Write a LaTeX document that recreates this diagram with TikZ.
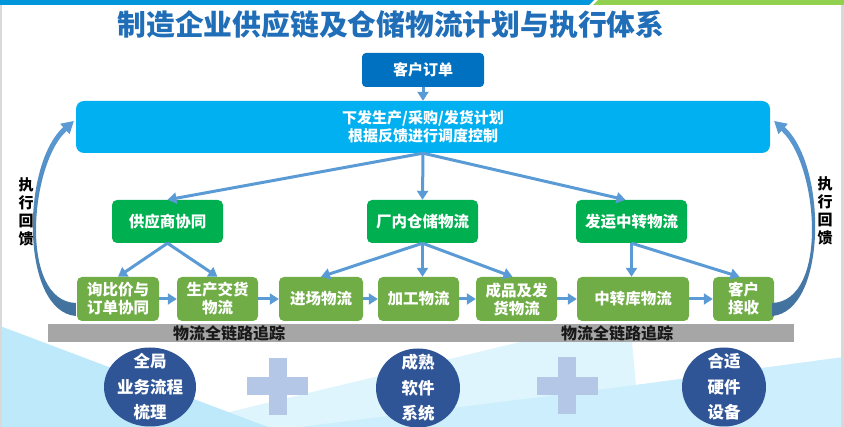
\documentclass[tikz,border=0pt]{standalone}
\usepackage{fontspec}
\setmainfont{Noto Sans CJK SC}
\usepackage{xcolor}
\usepackage{tikz}
\usetikzlibrary{arrows.meta,positioning,calc,shapes.geometric}
\definecolor{TitleBlue}{HTML}{1F6EB7}
\definecolor{OrderBlue}{HTML}{0070C0}
\definecolor{PlanBlue}{HTML}{00B0F0}
\definecolor{MidGreen}{HTML}{00B050}
\definecolor{StepGreen}{HTML}{70AD47}
\definecolor{Flow}{HTML}{5B9BD5}
\definecolor{FlowDark}{HTML}{41719C}
\definecolor{Track}{HTML}{A6A6A6}
\definecolor{Navy}{HTML}{2F5597}
\definecolor{PlusBlue}{HTML}{B4C7E7}
\definecolor{BarBlue}{HTML}{0096DB}
\definecolor{BarGreen}{HTML}{92D050}
\definecolor{BgA}{HTML}{BDE9FA}
\definecolor{BgB}{HTML}{DFF5FD}
\definecolor{BgC}{HTML}{CDEEFC}
\definecolor{Frame}{HTML}{D9D9D9}
\newcommand\fsz[2]{\fontsize{#1}{#2}\selectfont}
\tikzset{
  feedback/.pic={
    \path[top color=Flow, bottom color=FlowDark]
      (0,0) .. controls (-55,-5) and (-55,-150) .. (-12.6,-188.8)
      -- (-15.6,-192.2) -- (-2,-195) -- (-6.2,-181.8) -- (-9.2,-185.1)
      .. controls (-46,-152) and (-57,-15) .. (0,-13) -- cycle;
  }
}

\begin{document}
\begin{tikzpicture}[x=1pt, y=-1pt,
  every node/.style={inner sep=0pt},
  orderbox/.style={fill=OrderBlue, rounded corners=4pt, text=white, font=\bfseries\fsz{15}{18}, minimum width=122pt, minimum height=34pt},
  planbox/.style={fill=PlanBlue, rounded corners=8pt, text=white, font=\bfseries\fsz{15}{18}, align=center, minimum width=694pt, minimum height=52pt},
  midbox/.style={fill=MidGreen, rounded corners=5pt, text=white, font=\bfseries\fsz{15.5}{18}, minimum width=111pt, minimum height=43pt},
  stepbox/.style={fill=StepGreen, rounded corners=5pt, text=white, font=\bfseries\fsz{15.5}{18}, align=center, minimum height=44pt},
  flow/.style={draw=Flow, line width=3pt, -{Triangle[length=9pt,width=11pt]}},
  pillar/.style={ellipse, fill=Navy, minimum height=79pt},
  pillartext/.style={text=white, font=\bfseries\fsz{16.5}{25.5}, align=center},
  feedtext/.style={font=\bfseries\fsz{15}{18}, align=center},
  tracktext/.style={font=\bfseries\fsz{16}{18}, text=black!90},
  plusbar/.style={fill=PlusBlue}]
  \useasboundingbox (0,0) rectangle (844,427);

  % background
  \fill[BgB] (167,427) -- (520,342) -- (632,342) -- (636,385) -- (844,357) -- (844,427) -- cycle;
  \fill[BgC] (300,427) -- (636,385) -- (844,357) -- (844,427) -- cycle;
  \fill[BgA] (0,326) -- (268,427) -- (0,427) -- cycle;
  \fill[Frame] (0,0) rectangle (1.5,427);
  \fill[Frame] (841,0) rectangle (844,427);
  \fill[BarBlue] (0,0) -- (594,0) -- (589,5) -- (0,5) -- cycle;
  \fill[BarGreen] (598,0) -- (844,0) -- (844,5) -- (593,5) -- cycle;

  \node[text=TitleBlue, font=\bfseries\fsz{28.8}{30}] (title) at (391,25) {制造企业供应链及仓储物流计划与执行体系};

  \node[orderbox] (order) at (423,70) {客户订单};
  \node[planbox] (plan) at (423,127) {下发生产/采购/发货计划\\根据反馈进行调度控制};

  \node[midbox] (sup) at (167.5,221.5) {供应商协同};
  \node[midbox] (wh) at (422.5,221.5) {厂内仓储物流};
  \node[midbox] (ship) at (631.5,221.5) {发运中转物流};

  \node[stepbox, minimum width=82pt] (q1) at (118,299) {询比价与\\订单协同};
  \node[stepbox, minimum width=81pt] (q2) at (217.5,299) {生产交货\\物流};
  \node[stepbox, minimum width=84pt] (q3) at (321,299) {进场物流};
  \node[stepbox, minimum width=81pt] (q4) at (418.5,299) {加工物流};
  \node[stepbox, minimum width=81pt] (q5) at (516.5,299) {成品及发\\货物流};
  \node[stepbox, minimum width=112pt] (q6) at (633,299) {中转库物流};
  \node[stepbox, minimum width=61pt] (q7) at (743.5,299) {客户\\接收};

  % connectors
  \draw[flow] (order.south) -- (plan.north);
  \draw[flow] (plan.south) -- (sup.north);
  \draw[flow] (plan.south) -- (wh.north);
  \draw[flow] (plan.south) -- ($(ship.north)+(-6,0)$);
  \draw[flow] (sup.south) -- (q1.north);
  \draw[flow] (sup.south) -- (q2.north);
  \draw[flow] (wh.south) -- (q3.north);
  \draw[flow] (wh.south) -- (wh.south |- q4.north);
  \draw[flow] (wh.south) -- ($(q5.north)+(-4,0)$);
  \draw[flow] (ship.south) -- (ship.south |- q6.north);
  \draw[flow] (ship.south) -- ($(q7.north)+(-4,0)$);
  \foreach \a/\b in {q1/q2,q2/q3,q3/q4,q4/q5,q5/q6,q6/q7}
    \draw[flow] (\a.east) -- (\b.west);

  % feedback loops
  \pic at ($(q1.west)+(-1,17)$) {feedback};
  \pic[xscale=-1] at ($(q7.east)+(-2,17)$) {feedback};
  \node[feedtext] (fbl) at (26,212) {执\\行\\回\\馈};
  \node[feedtext] (fbr) at (825,211) {执\\行\\回\\馈};

  % tracking bar
  \node[fill=Track, minimum width=746pt, minimum height=18pt] (track) at (421,333) {};
  \node[tracktext] (trackl) at (229,333) {物流全链路追踪};
  \node[tracktext] (trackr) at (617,333) {物流全链路追踪};

  % pillars
  \node[pillar, minimum width=92pt] (e1) at (150,387) {};
  \node[pillartext] at (e1) {全局\\业务流程\\梳理};
  \node[pillar, minimum width=84pt] (e2) at (418,388) {};
  \node[pillartext] at (e2) {成熟\\软件\\系统};
  \node[pillar, minimum width=84pt] (e3) at (724,387) {};
  \node[pillartext] at (e3) {合适\\硬件\\设备};
  \foreach \cx/\cy in {277.5/386.5,567/386}{
    \fill[plusbar] (\cx-9,\cy-28.5) rectangle (\cx+9,\cy+28.5);
    \fill[plusbar] (\cx-30.5,\cy-9) rectangle (\cx+30.5,\cy+9);
  }
\end{tikzpicture}
\end{document}
